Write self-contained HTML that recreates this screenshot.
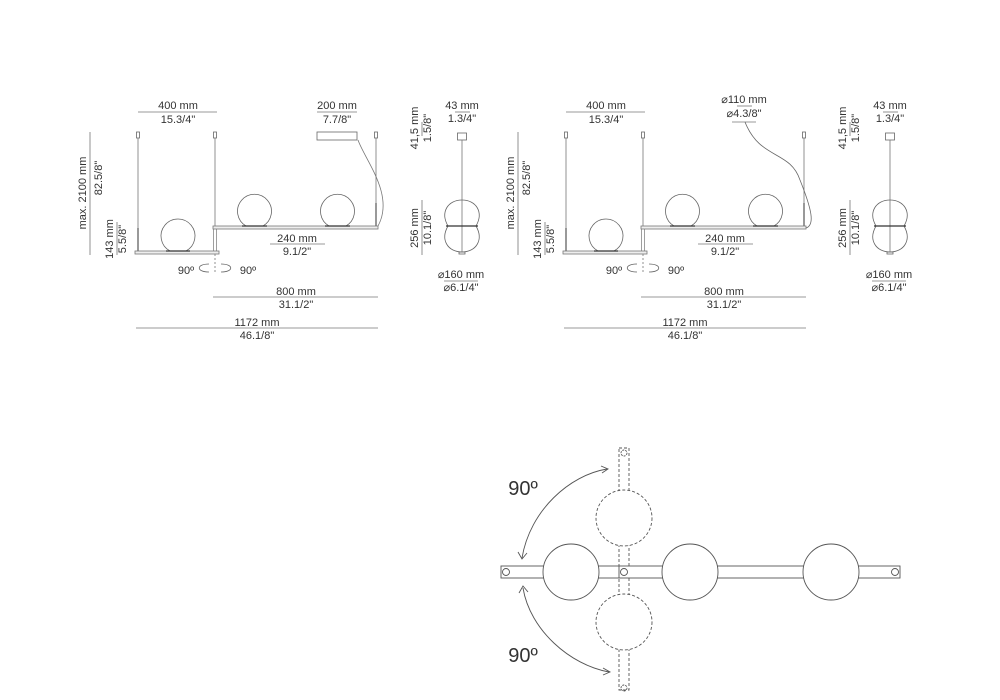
<!DOCTYPE html>
<html><head><meta charset="utf-8"><style>
html,body{margin:0;padding:0;background:#fff;}
svg{display:block;}
text{font-family:"Liberation Sans",sans-serif;fill:#333;font-size:11px;}
</style></head><body>
<svg width="1000" height="700" viewBox="0 0 1000 700" xmlns="http://www.w3.org/2000/svg">
<defs>
<g id="common" fill="none" stroke="#777" stroke-width="0.8">
  <!-- 400mm -->
  <text x="178" y="109" text-anchor="middle" stroke="none">400 mm</text>
  <line x1="138" y1="112" x2="217" y2="112"/>
  <text x="178" y="123" text-anchor="middle" stroke="none">15.3/4"</text>
  <!-- suspensions -->
  <rect x="136.5" y="132" width="3" height="6" stroke="#666"/>
  <line x1="138" y1="138" x2="138" y2="252"/>
  <line x1="138" y1="228" x2="138" y2="252" stroke-width="2" stroke="#999"/>
  <rect x="213.5" y="132" width="3" height="6" stroke="#666"/>
  <line x1="215" y1="138" x2="215" y2="227"/>
  <rect x="213.5" y="227" width="3" height="25" stroke="#888"/>
  <rect x="374.5" y="132" width="3" height="6" stroke="#666"/>
  <line x1="376" y1="138" x2="376" y2="227"/>
  <line x1="376" y1="203" x2="376" y2="228" stroke-width="2" stroke="#999"/>
  <!-- bars -->
  <rect x="135" y="251" width="84" height="3" stroke="#777" fill="#eee"/>
  <rect x="213" y="226" width="165" height="3" stroke="#777" fill="#eee"/>
  <!-- spheres -->
  <path d="M170 251 A17 17 0 1 1 186 251" stroke="#666"/>
  <line x1="166" y1="251" x2="190" y2="251" stroke="#333" stroke-width="1.2"/>
  <path d="M246 226 A17 17 0 1 1 263 226" stroke="#666"/>
  <line x1="242" y1="226" x2="267" y2="226" stroke="#333" stroke-width="1.2"/>
  <path d="M329 226 A17 17 0 1 1 346 226" stroke="#666"/>
  <line x1="325" y1="226" x2="350" y2="226" stroke="#333" stroke-width="1.2"/>
  <!-- max 2100 -->
  <line x1="90" y1="132" x2="90" y2="255"/>
  <text transform="translate(86,193) rotate(-90)" text-anchor="middle" stroke="none">max. 2100 mm</text>
  <text transform="translate(102,178) rotate(-90)" text-anchor="middle" stroke="none">82.5/8"</text>
  <line x1="117" y1="222" x2="117" y2="255"/>
  <text transform="translate(113,239) rotate(-90)" text-anchor="middle" stroke="none">143 mm</text>
  <text transform="translate(126,239) rotate(-90)" text-anchor="middle" stroke="none">5.5/8"</text>
  <!-- rotation -->
  <line x1="215" y1="254" x2="215" y2="272" stroke-dasharray="2,2"/>
  <path d="M209 264 C196 264 196 272 209 272 M221 264 C234 264 234 272 221 272" stroke="#666"/>
  <text x="186" y="274" text-anchor="middle" stroke="none">90º</text>
  <text x="248" y="274" text-anchor="middle" stroke="none">90º</text>
  <!-- 240 -->
  <text x="297" y="242" text-anchor="middle" stroke="none">240 mm</text>
  <line x1="270" y1="244" x2="325" y2="244"/>
  <text x="297" y="255" text-anchor="middle" stroke="none">9.1/2"</text>
  <!-- 800 -->
  <text x="296" y="295" text-anchor="middle" stroke="none">800 mm</text>
  <line x1="213" y1="297" x2="378" y2="297"/>
  <text x="296" y="308" text-anchor="middle" stroke="none">31.1/2"</text>
  <!-- 1172 -->
  <text x="257" y="326" text-anchor="middle" stroke="none">1172 mm</text>
  <line x1="136" y1="328" x2="378" y2="328"/>
  <text x="257" y="339" text-anchor="middle" stroke="none">46.1/8"</text>
  <!-- side view -->
  <text x="462" y="109" text-anchor="middle" stroke="none">43 mm</text>
  <line x1="455" y1="112" x2="470" y2="112"/>
  <text x="462" y="122" text-anchor="middle" stroke="none">1.3/4"</text>
  <rect x="457.5" y="133" width="9" height="7" stroke="#666"/>
  <line x1="462" y1="140" x2="462" y2="252"/>
  <text transform="translate(418,128) rotate(-90)" text-anchor="middle" stroke="none">41,5 mm</text>
  <text transform="translate(431,128) rotate(-90)" text-anchor="middle" stroke="none">1.5/8"</text>
  <line x1="422" y1="122" x2="422" y2="136"/>
  <path d="M448 226 C440 212 448 200 462 200 C476 200 484 212 476 226 Z" stroke="#666"/>
  <path d="M448 226 C440 240 448 252 462 252 C476 252 484 240 476 226" stroke="#666"/>
  <line x1="446" y1="226" x2="478" y2="226" stroke="#333" stroke-width="1.2"/>
  <rect x="459" y="252" width="6" height="2" stroke="#666"/>
  <line x1="422" y1="200" x2="422" y2="255"/>
  <text transform="translate(418,228) rotate(-90)" text-anchor="middle" stroke="none">256 mm</text>
  <text transform="translate(431,228) rotate(-90)" text-anchor="middle" stroke="none">10.1/8"</text>
  <text x="461" y="278" text-anchor="middle" stroke="none">⌀160 mm</text>
  <line x1="444" y1="281" x2="478" y2="281"/>
  <text x="461" y="291" text-anchor="middle" stroke="none">⌀6.1/4"</text>
</g>
</defs>
<use href="#common"/>
<use href="#common" transform="translate(428,0)"/>
<!-- left canopy -->
<g fill="none" stroke="#777" stroke-width="0.8">
  <text x="337" y="109" text-anchor="middle" stroke="none">200 mm</text>
  <line x1="317" y1="112" x2="357" y2="112"/>
  <text x="337" y="123" text-anchor="middle" stroke="none">7.7/8"</text>
  <rect x="317" y="132" width="40" height="8" stroke="#666"/>
  <path d="M358 140 C365 160 395 195 378 226" stroke="#777"/>
  <!-- right canopy -->
  <text x="744" y="103" text-anchor="middle" stroke="none">⌀110 mm</text>
  <line x1="737" y1="106" x2="752" y2="106"/>
  <text x="744" y="117" text-anchor="middle" stroke="none">⌀4.3/8"</text>
  <line x1="732" y1="122" x2="756" y2="122"/>
  <path d="M745 122 C760 160 790 150 800 180 C812 210 815 225 806 228" stroke="#666"/>
</g>
<!-- bottom plan view -->
<g fill="none" stroke="#555" stroke-width="0.9">
  <rect x="619" y="448" width="10" height="242" stroke-dasharray="3,2"/>
  <circle cx="624" cy="453" r="3" stroke-dasharray="2,1"/>
  <circle cx="624" cy="688" r="3" stroke-dasharray="2,1"/>
  <circle cx="624" cy="518" r="28" stroke-dasharray="3,2" fill="#fff"/>
  <circle cx="624" cy="622" r="28" stroke-dasharray="3,2" fill="#fff"/>
  <rect x="501" y="566" width="399" height="12" fill="#fff"/>
  <line x1="619" y1="566" x2="619" y2="578"/>
  <circle cx="506" cy="572" r="3.5"/>
  <circle cx="624" cy="572" r="3.5"/>
  <circle cx="895" cy="572" r="3.5"/>
  <circle cx="571" cy="572" r="28" fill="#fff"/>
  <circle cx="690" cy="572" r="28" fill="#fff"/>
  <circle cx="831" cy="572" r="28" fill="#fff"/>
  <path d="M522 558 C530 510 570 475 607 469"/>
  <path d="M601 466 L608 469 L602 473 M518 552 L522 559 L527 553"/>
  <path d="M523 588 C530 630 570 665 609 672"/>
  <path d="M519 593 L523 586 L528 592 M603 668 L610 672 L603 675"/>
  <text x="523" y="495" text-anchor="middle" stroke="none" style="font-size:20px">90º</text>
  <text x="523" y="662" text-anchor="middle" stroke="none" style="font-size:20px">90º</text>
</g>
</svg>
</body></html>
